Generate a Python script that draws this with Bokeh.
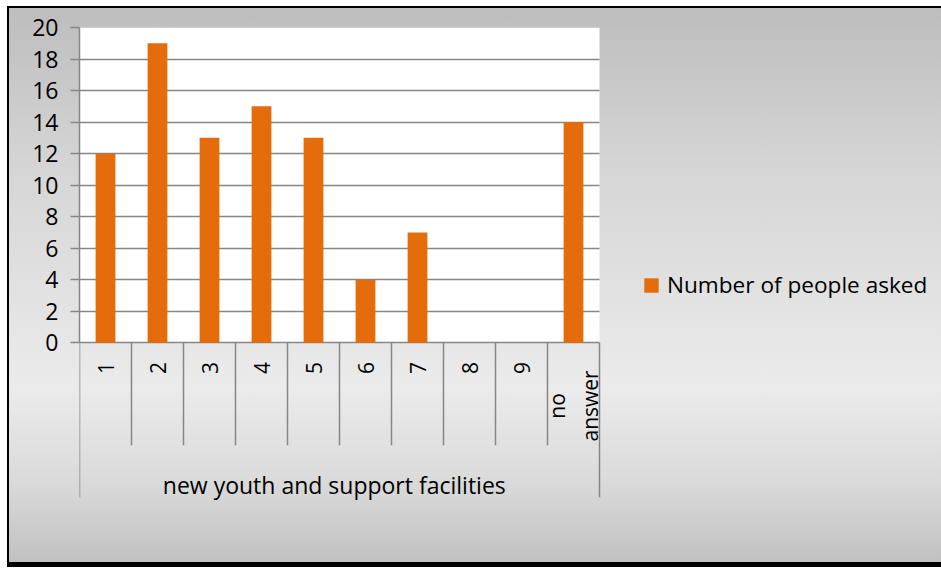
import math
import numpy as np
from bokeh.plotting import figure
from bokeh.models import (Range1d, FixedTicker, BoxAnnotation, ColumnDataSource,
                          Legend, LegendItem)
from bokeh.core.properties import value
from bokeh.embed import file_html
from bokeh.resources import INLINE

# ---- data ----
categories = ["1", "2", "3", "4", "5", "6", "7", "8", "9", "no answer"]
counts = [12, 19, 13, 15, 13, 4, 7, 0, 0, 14]
group_label = "new youth and support facilities"
series_name = "Number of people asked"
y_ticks = list(range(0, 21, 2))

FONT = "Open Sans"
GRID = "#868686"
BAR = "#E46C0A"

n = len(categories)
PLOT_W = 520          # width of the white plot area (px)
FRAME_W = 862         # frame spans plot area + legend zone
x_end = n * FRAME_W / PLOT_W
y_top = max(y_ticks)

p = figure(frame_width=FRAME_W, frame_height=473, output_backend="svg", toolbar_location=None,
           x_range=Range1d(0, x_end),
           y_range=Range1d(-10, y_top),
           x_axis_location=None,
           min_border_left=72, min_border_right=0, min_border_top=21, min_border_bottom=67,
           styles={"margin-left": "7px", "margin-top": "6px",
                   "background": "linear-gradient(to bottom, #bdbdbd 0%, #d6d6d6 30%, #ebebeb 68%, #dadada 85%, #bfbfbf 100%)",
                   "box-shadow": "inset 2px 2px 0 0 #000, inset 0 -5px 0 0 #000"})
p.border_fill_alpha = 0
p.background_fill_alpha = 0
p.outline_line_color = None

# white plot area
p.add_layout(BoxAnnotation(left=0, right=n, bottom=0, top=y_top, fill_color="white", fill_alpha=1,
                           line_color=None, level="image"))

# grid
p.xgrid.visible = False
p.ygrid.ticker = FixedTicker(ticks=y_ticks)
p.ygrid.bounds = (0, y_top)
p.ygrid.cross_bounds = (0, n)
p.ygrid.grid_line_color = GRID
p.ygrid.grid_line_width = 1.5

# y axis
ax = p.yaxis[0]
ax.ticker = FixedTicker(ticks=y_ticks)
ax.bounds = (0, y_top)
ax.axis_line_color = GRID
ax.axis_line_width = 1.5
ax.major_tick_line_color = GRID
ax.major_tick_line_width = 1.5
ax.major_tick_out = 9
ax.major_tick_in = 0
ax.minor_tick_line_color = None
ax.major_label_standoff = 12
ax.major_label_text_font = FONT
ax.major_label_text_font_size = "23px"
ax.major_label_text_color = "#000000"

# bars (category i centred at i + 0.5)
xc = np.arange(n) + 0.5
src = ColumnDataSource(dict(x=xc, cat=categories, count=counts))
bars = p.vbar(x="x", top="count", width=0.38, source=src, fill_color=BAR, line_color=None)

# category dividers
bx = np.arange(n + 1)
inner_depth = -6.5
outer_depth = -9.8
by1 = [outer_depth if (i == 0 or i == n) else inner_depth for i in range(n + 1)]
p.segment(x0=bx, y0=[0] * (n + 1), x1=bx, y1=by1, line_color=GRID, line_width=1.5)

# category labels (rotated)
disp = [c.replace(" ", "\n") for c in categories]
lab_y = [-4.0 if "\n" in d else -1.6 for d in disp]
p.text(x=xc, y=lab_y, text=disp, angle=math.pi / 2,
       text_align="center", text_baseline="middle", text_font=value(FONT),
       text_font_size="21px", text_color="#000000", text_line_height=1.2)

# group label
p.text(x=[n / 2 - 0.1], y=[-9.0], text=[group_label], text_align="center", text_baseline="middle",
       text_font=value(FONT), text_font_size="23px", text_color="#000000")

# legend
legend = Legend(items=[LegendItem(label=series_name, renderers=[bars])],
                location=(563, 200), orientation="vertical",
                glyph_width=18, glyph_height=18, label_standoff=7, padding=0, margin=0,
                label_text_font=FONT, label_text_font_size="22.6px", label_text_color="#000000",
                background_fill_alpha=0, border_line_color=None)
p.add_layout(legend)

open("out.html", "w").write(file_html(p, INLINE))
